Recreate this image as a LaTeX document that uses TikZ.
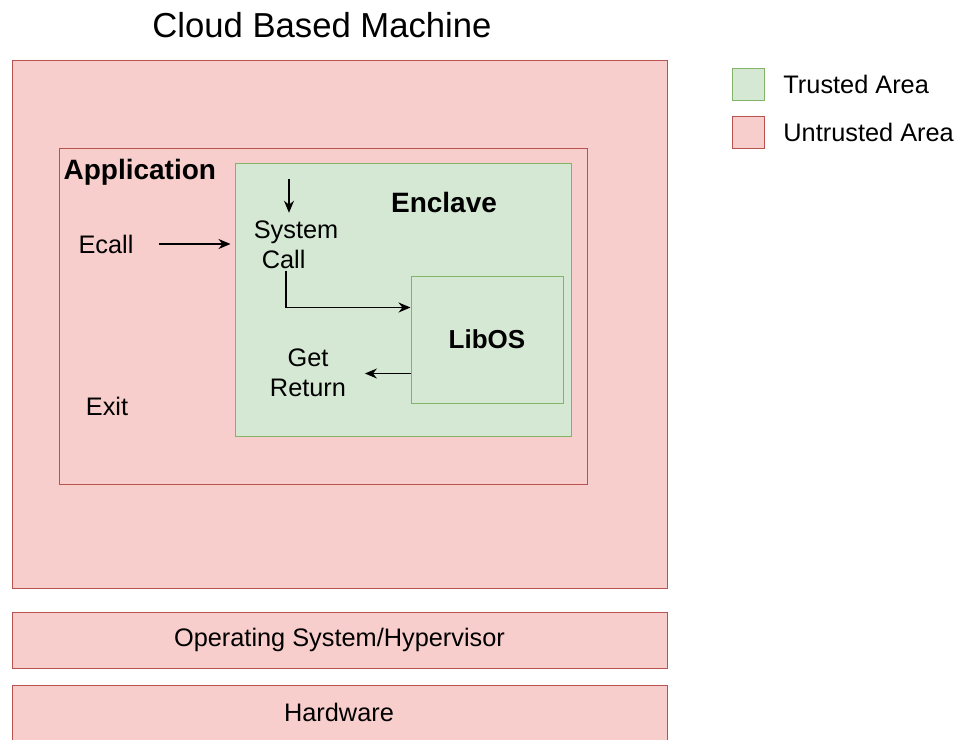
\documentclass[tikz,border=0pt]{standalone}
\usepackage{fontspec}
\setmainfont{Liberation Sans}
\usetikzlibrary{arrows.meta,positioning,fit}
\definecolor{untrust}{HTML}{F8CECC}
\definecolor{untrustline}{HTML}{B85450}
\definecolor{trust}{HTML}{D5E8D4}
\definecolor{trustline}{HTML}{82B366}

\begin{document}
\begin{tikzpicture}[x=0.75pt,y=-0.75pt,
  redbox/.style={draw=untrustline,fill=untrust,line width=0.75pt,inner sep=0pt},
  greenbox/.style={draw=trustline,fill=trust,line width=0.75pt,inner sep=0pt},
  txt/.style={font=\fontsize{19}{22.5}\selectfont,align=center,inner sep=1pt},
  bold/.style={font=\fontsize{21}{25}\selectfont\bfseries,inner sep=1pt},
  arr/.style={-{Stealth[length=9pt,width=7.5pt]},line width=1pt}]
  \useasboundingbox (0,0) rectangle (960,739);

  % Title
  \node[font=\fontsize{26}{30}\selectfont] (title) at (322,25) {Cloud Based Machine};

  % Machine and application
  \node[redbox,fit={(12,60) (667,588)}] (machine) {};
  \node[redbox,fit={(59,148) (587,484)}] (app) {};
  \node[bold,anchor=west] (applbl) at (62,172) {Application};
  \node[txt] (ecall) at (106,244) {Ecall};
  \node[txt] (exit) at (107,406) {Exit};

  % Enclave
  \node[greenbox,fit={(235,163) (571,436)}] (enclave) {};
  \node[bold] (enclbl) at (444,202) {Enclave};
  \node[greenbox,fit={(411,276) (563,403)}] (libos) {};
  \node[font=\fontsize{19.5}{23}\selectfont\bfseries] (liblbl) at (libos.center) {LibOS};
  \node[txt,align=left] (sys) at (296,245) {System\\\hspace*{6pt}Call};
  \node[txt] (ret) at (308,373) {Get\\Return};

  % Arrows
  \coordinate (libout) at ([yshift=22.5pt]libos.south west);
  \draw[arr] ([xshift=-5.25pt,yshift=30pt]sys.north) -- ([xshift=-5.25pt,yshift=5pt]sys.north);
  \draw[arr,shorten <=18pt,shorten >=3pt] (ecall.east) -- (ecall.east -| enclave.west);
  \draw[arr] ([xshift=-7.5pt]sys.south) |- ([yshift=-24pt]libos.north west);
  \draw[arr,shorten >=13pt] (libout) -- (ret.east |- libout);

  % Lower layers
  \node[redbox,fit={(12,612) (667,668)}] (os) {};
  \node[txt] (oslbl) at (os.center) {Operating System/Hypervisor};
  \node[redbox,fit={(12,685) (667,742)}] (hw) {};
  \node[txt] (hwlbl) at (339,712) {Hardware};

  % Legend
  \node[greenbox,fit={(732,68) (764,100)}] (tbox) {};
  \node[redbox,fit={(732,116) (764,148)}] (ubox) {};
  \node[txt,right=13pt of tbox] (tlbl) {Trusted Area};
  \node[txt,right=13pt of ubox] (ulbl) {Untrusted Area};
\end{tikzpicture}
\end{document}
